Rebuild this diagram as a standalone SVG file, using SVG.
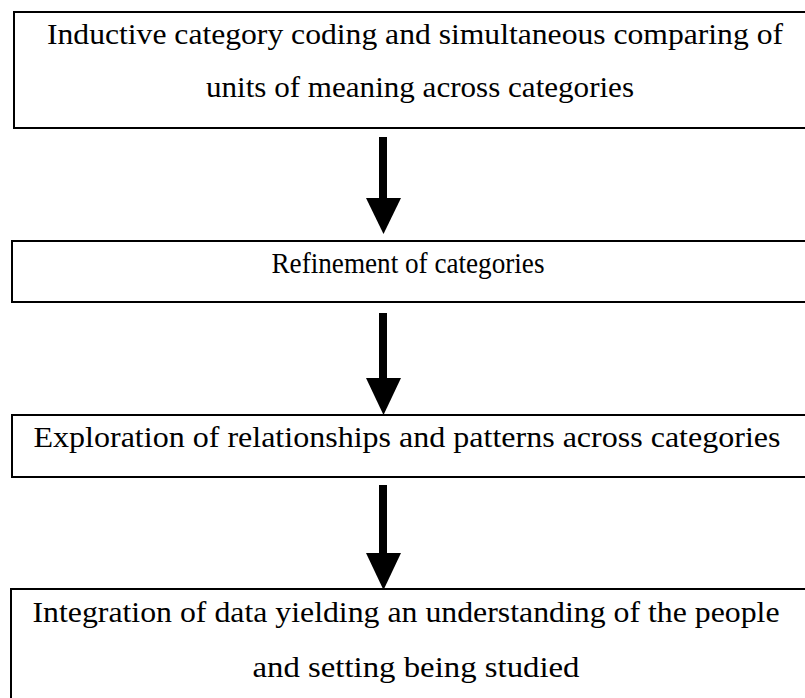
<svg xmlns="http://www.w3.org/2000/svg" width="805" height="698" viewBox="0 0 805 698">
  <style>
    .box { fill: #ffffff; stroke: #000000; stroke-width: 2; }
    .label { font-size: 30px; fill: #000000; text-anchor: middle; }
    .shaft { stroke: #000000; stroke-width: 8; fill: none; }
    .head { fill: #000000; stroke: none; }
  </style>
  <rect width="805" height="698" fill="#ffffff"/>

  <g font-family="'Liberation Serif', 'DejaVu Serif', serif">
    <g id="node-coding">
      <rect class="box" x="14" y="12" width="800" height="116"/>
      <text class="label" x="415" y="44" textLength="736" lengthAdjust="spacingAndGlyphs">Inductive category coding and simultaneous comparing of</text>
      <text class="label" x="420" y="97" textLength="428" lengthAdjust="spacingAndGlyphs">units of meaning across categories</text>
    </g>

    <g id="node-refinement">
      <rect class="box" x="12" y="241" width="800" height="61"/>
      <text class="label" x="408" y="273" textLength="273" lengthAdjust="spacingAndGlyphs">Refinement of categories</text>
    </g>

    <g id="node-exploration">
      <rect class="box" x="12" y="415" width="800" height="62"/>
      <text class="label" x="407" y="447" textLength="747" lengthAdjust="spacingAndGlyphs">Exploration of relationships and patterns across categories</text>
    </g>

    <g id="node-integration">
      <rect class="box" x="11" y="589" width="800" height="120"/>
      <text class="label" x="406" y="622" textLength="747" lengthAdjust="spacingAndGlyphs">Integration of data yielding an understanding of the people</text>
      <text class="label" x="416" y="677" textLength="327" lengthAdjust="spacingAndGlyphs">and setting being studied</text>
    </g>
  </g>

  <g id="connectors">
    <line class="shaft" x1="383" y1="137" x2="383" y2="200"/>
    <polygon class="head" points="366,198 401,198 383.5,234"/>
    <line class="shaft" x1="383" y1="313" x2="383" y2="380"/>
    <polygon class="head" points="366,378 401,378 383.5,415"/>
    <line class="shaft" x1="383" y1="485" x2="383" y2="555"/>
    <polygon class="head" points="366,553 401,553 383.5,590"/>
  </g>
</svg>
